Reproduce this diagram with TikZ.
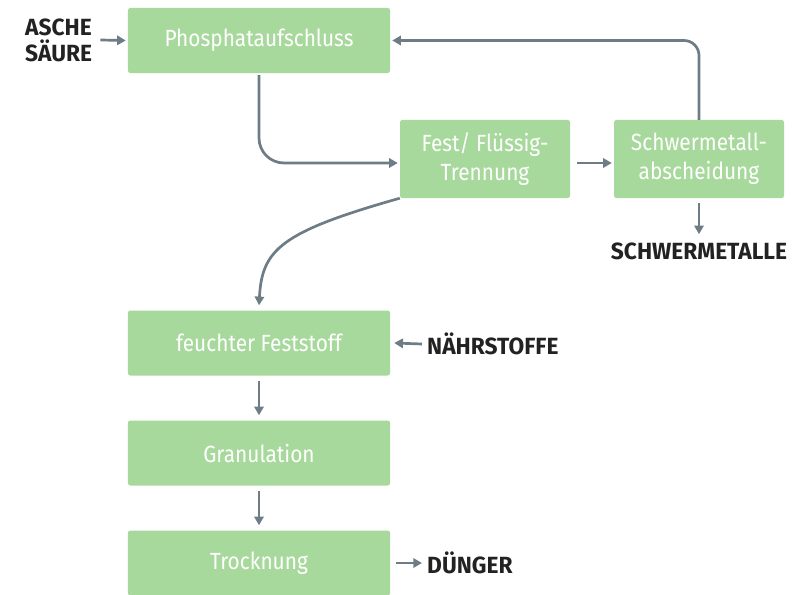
\documentclass[tikz,border=0pt]{standalone}
\usepackage{fontspec}
\setmainfont{Fira Sans}
\newfontfamily\boxfont{Fira Sans}[FakeStretch=0.89]
\newfontfamily\tagfont{Fira Sans}[FakeStretch=0.97]
\usepackage{tikz}
\usetikzlibrary{arrows.meta}
\definecolor{boxgreen}{HTML}{A8D99C}
\definecolor{arrowgray}{HTML}{6E7C86}
\definecolor{labelblack}{HTML}{222222}

\begin{document}
\begin{tikzpicture}[x=0.03cm,y=-0.03cm,
  stepbox/.style={fill=boxgreen,rounded corners=2pt,text=white,align=center,
    font=\boxfont\fontsize{20}{25}\selectfont,inner sep=0pt},
  widebox/.style={stepbox,minimum width=7.86cm,minimum height=1.95cm},
  smallbox/.style={stepbox,minimum width=5.1cm,minimum height=2.34cm},
  flow/.style={draw=arrowgray,line width=2.3pt,-{Triangle[length=2.6mm,width=2.8mm]}},
  tag/.style={text=labelblack,font=\tagfont\bfseries\fontsize{20}{22}\selectfont,inner sep=0pt,align=left}]
\useasboundingbox (0,0) rectangle (797,594);
% boxes
\node[widebox] (phos) at (259,40.5) {Phosphataufschluss};
\node[smallbox] (fest) at (485,159) {Fest/ Flüssig-\\Trennung};
\node[smallbox] (schwer) at (699,159) {Schwermetall-\\abscheidung};
\node[widebox] (feucht) at (259,343) {feuchter Feststoff};
\node[widebox] (gran) at (259,453) {Granulation};
\node[widebox] (trock) at (259,563) {Trocknung};
% labels
\node[tag,anchor=west] (asche) at (25,40) {ASCHE\\SÄURE};
\node[tag] (metalle) at (699,251) {SCHWERMETALLE};
\node[tag,anchor=west] (naehr) at (427,344) {NÄHRSTOFFE};
\node[tag,anchor=west] (duenger) at (427,563) {DÜNGER};
% arrows
\draw[flow] ([xshift=8*0.03cm]asche.east) -- ([xshift=-2*0.03cm]phos.west);
\draw[flow,rounded corners=0.75cm] ([yshift=-2*0.03cm]phos.south) |- ([xshift=-2*0.03cm,yshift=-4*0.03cm]fest.west);
\draw[flow,rounded corners=0.45cm] (schwer.north) |- ([xshift=2*0.03cm]phos.east);
\draw[flow] ([xshift=7*0.03cm,yshift=-4*0.03cm]fest.east) -- ([xshift=-2*0.03cm,yshift=-4*0.03cm]schwer.west);
\draw[flow] ([yshift=-5*0.03cm]schwer.south) -- ([yshift=8*0.03cm]metalle.north);
\draw[flow] (fest.south west) .. controls (280,232) and (262,250) .. ([yshift=5*0.03cm]feucht.north);
\draw[flow] ([xshift=-5*0.03cm]naehr.west) -- ([xshift=4*0.03cm]feucht.east);
\draw[flow] ([yshift=-5*0.03cm]feucht.south) -- ([yshift=5*0.03cm]gran.north);
\draw[flow] ([yshift=-5*0.03cm]gran.south) -- ([yshift=5*0.03cm]trock.north);
\draw[flow] ([xshift=6*0.03cm]trock.east) -- ([xshift=-5*0.03cm]duenger.west);
\end{tikzpicture}
\end{document}
